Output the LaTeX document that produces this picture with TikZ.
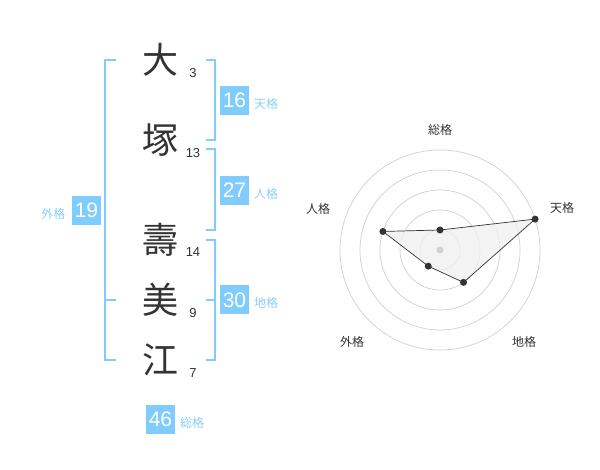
\documentclass[tikz,border=0pt]{standalone}
\usepackage{fontspec}
\setmainfont{Liberation Sans}
\newfontfamily\jpfont{Noto Sans CJK JP}
\definecolor{kakublue}{RGB}{128,204,255}
\definecolor{labelblue}{RGB}{140,206,250}
\definecolor{inkgray}{RGB}{51,51,51}
\definecolor{ringgray}{RGB}{208,208,208}
\definecolor{areagray}{RGB}{240,240,240}
\begin{document}
\begin{tikzpicture}[x=1pt,y=-1pt,
    kanji/.style={font=\jpfont\fontsize{36}{36}\selectfont, text=inkgray, inner sep=0},
    strokes/.style={font=\fontsize{13}{13}\selectfont, text=inkgray, inner sep=0},
    kakubox/.style={fill=kakublue, text=white, minimum size=29pt, inner sep=0, font=\fontsize{21}{21}\selectfont},
    kakulabel/.style={font=\jpfont\fontsize{12}{12}\selectfont, text=labelblue, inner sep=0},
    bracket/.style={draw=kakublue, line width=2pt},
    ring/.style={draw=ringgray, line width=0.7pt},
    dot/.style={circle, fill=inkgray, inner sep=0, minimum size=7pt},
    axislabel/.style={font=\jpfont\fontsize{12}{12}\selectfont, text=inkgray, inner sep=0}]
    \useasboundingbox[fill=white] (0,0) rectangle (600,470);

    % Name, one character per row
    \node[kanji] (k1) at (160,60) {大};
    \node[kanji] (k2) at (160,140) {塚};
    \node[kanji] (k3) at (160,240) {壽};
    \node[kanji] (k4) at (160,300) {美};
    \node[kanji] (k5) at (160,360) {江};

    % Stroke counts
    \node[strokes] (s1) at (193,73) {3};
    \node[strokes] (s2) at (193,153) {13};
    \node[strokes] (s3) at (193,252) {14};
    \node[strokes] (s4) at (193,313) {9};
    \node[strokes] (s5) at (193,373) {7};

    % Brackets
    \draw[bracket] (116,60) -- (105,60) -- (105,360) -- (116,360);
    \draw[bracket] (105,300) -- (116,300);
    \draw[bracket] (206,60) -- (215,60) -- (215,140) -- (206,140);
    \draw[bracket] (206,149) -- (215,149) -- (215,230) -- (206,230);
    \draw[bracket] (206,240) -- (215,240) -- (215,360) -- (206,360);
    \draw[bracket] (206,300) -- (215,300);

    % Totals
    \node[kakubox] (ten) at (234.5,100.5) {16};
    \node[kakulabel] (tenl) at (266,104) {天格};
    \node[kakubox] (jin) at (234.5,190.5) {27};
    \node[kakulabel] (jinl) at (266,194) {人格};
    \node[kakubox] (chi) at (234.5,300) {30};
    \node[kakulabel] (chil) at (266,303) {地格};
    \node[kakubox] (gai) at (86.5,210.5) {19};
    \node[kakulabel] (gail) at (53.5,214) {外格};
    \node[kakubox] (sou) at (160.5,419) {46};
    \node[kakulabel] (soul) at (192,423) {総格};

    % Radar chart
    \begin{scope}[shift={(440,250)}, y=1pt]
        \foreach \r in {20,40,...,100}
            \draw[ring] (0,0) circle (\r pt);
        \coordinate (psou) at (90:20);
        \coordinate (pten) at (18:100);
        \coordinate (pchi) at (-54:40);
        \coordinate (pgai) at (-126:20);
        \coordinate (pjin) at (162:60);
        \draw[fill=areagray, fill opacity=0.8, draw=inkgray, line width=0.7pt]
            (psou) -- (pten) -- (pchi) -- (pgai) -- (pjin) -- cycle;
        \node[circle, fill=ringgray, inner sep=0, minimum size=7pt] (mid) at (0,0) {};
        \foreach \p in {psou,pten,pchi,pgai,pjin}
            \node[dot] at (\p) {};
        \node[axislabel] (asou) at (0,120) {総格};
        \node[axislabel] (aten) at (122,42) {天格};
        \node[axislabel] (ajin) at (-122,41) {人格};
        \node[axislabel] (agai) at (-88,-92) {外格};
        \node[axislabel] (achi) at (84,-92) {地格};
    \end{scope}
\end{tikzpicture}
\end{document}
